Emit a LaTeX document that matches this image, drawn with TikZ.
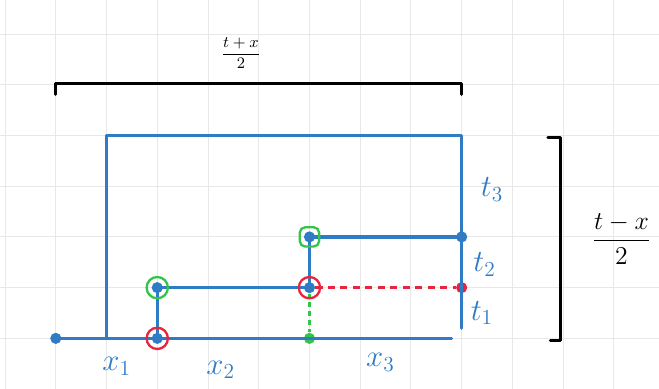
\documentclass[tikz,border=0pt]{standalone}
\usetikzlibrary{positioning,calc}
\definecolor{penblue}{RGB}{47,123,196}
\definecolor{penred}{RGB}{232,37,63}
\definecolor{pengreen}{RGB}{53,196,74}
\definecolor{gridgray}{RGB}{232,232,232}

\begin{document}
\begin{tikzpicture}[
      pt/.style={circle,fill=penblue,minimum size=0.22cm,inner sep=0pt},
      ring/.style={circle,draw,line width=1.3pt,minimum size=0.42cm,inner sep=0pt},
      blu/.style={penblue,line width=1.8pt,line cap=round,line join=round},
      brk/.style={black,line width=1.7pt,line cap=round,line join=round},
      lbl/.style={penblue,font=\LARGE}
    ]
      \useasboundingbox (-1.10,-0.99) rectangle (11.89,6.67);
      \draw[gridgray,line width=0.5pt] (-1.10,-0.99) grid (11.89,6.67);

      % points of the staircase
      \node[pt] (o) at (0,0) {};
      \node[pt] (a) at (2,0) {};
      \node[pt] (b) at (2,1) {};
      \node[pt] (c) at (5,1) {};
      \node[pt] (d) at (5,2) {};
      \node[pt] (e) at (8,2) {};
      \node[pt,fill=penred] (f) at (8,1) {};
      \node[pt,fill=pengreen] (g) at (5,0) {};
      \coordinate (lb) at (1,0);
      \coordinate (tl) at (1,4);
      \coordinate (tr) at (8,4);
      \coordinate (br) at (8,0.2);
      \coordinate (bend) at (7.8,0);

      % blue lines
      \draw[blu] (o.center) -- (bend);
      \draw[blu] (lb) -- (tl) -- (tr) -- (br);
      \draw[blu] (a.center) -- (b.center) -- (c.center) -- (d.center) -- (e.center);
      \draw[penred,line width=1.3pt,dash pattern=on 4pt off 3pt] (c) -- (f);
      \draw[pengreen,line width=1.3pt,dash pattern=on 2.5pt off 2.5pt] (c) -- (g);

      % rings
      \node[ring,penred] (ra) at (a) {};
      \node[ring,pengreen] (rb) at (b) {};
      \node[ring,penred] (rc) at (c) {};
      \node[ring,pengreen,rectangle,rounded corners=3pt,minimum size=0.38cm] (rd) at (d) {};

      % brackets
      \coordinate (hl) at (0,5.03);
      \coordinate (hr) at (8,5.03);
      \draw[brk] ($(hl)+(0,-0.22)$) -- (hl) -- (hr) -- ($(hr)+(0,-0.22)$);
      \coordinate (vt) at (9.95,3.96);
      \coordinate (vb) at (9.95,-0.04);
      \draw[brk] ($(vt)+(-0.25,0)$) -- (vt) -- (vb) -- ($(vb)+(-0.2,0)$);

      % labels
      \node[font=\small] (sum) at (3.65,5.62) {$\displaystyle\frac{t+x}{2}$};
      \node[font=\Large] (dif) at (11.15,1.95) {$\displaystyle\frac{t-x}{2}$};
      \node[lbl] (x1) at (1.2,-0.55) {$x_1$};
      \node[lbl] (x2) at (3.25,-0.62) {$x_2$};
      \node[lbl] (x3) at (6.4,-0.47) {$x_3$};
      \node[lbl] (t3) at (8.6,2.93) {$t_3$};
      \node[lbl] (t2) at (8.45,1.45) {$t_2$};
      \node[lbl] (t1) at (8.4,0.5) {$t_1$};
    \end{tikzpicture}
\end{document}
